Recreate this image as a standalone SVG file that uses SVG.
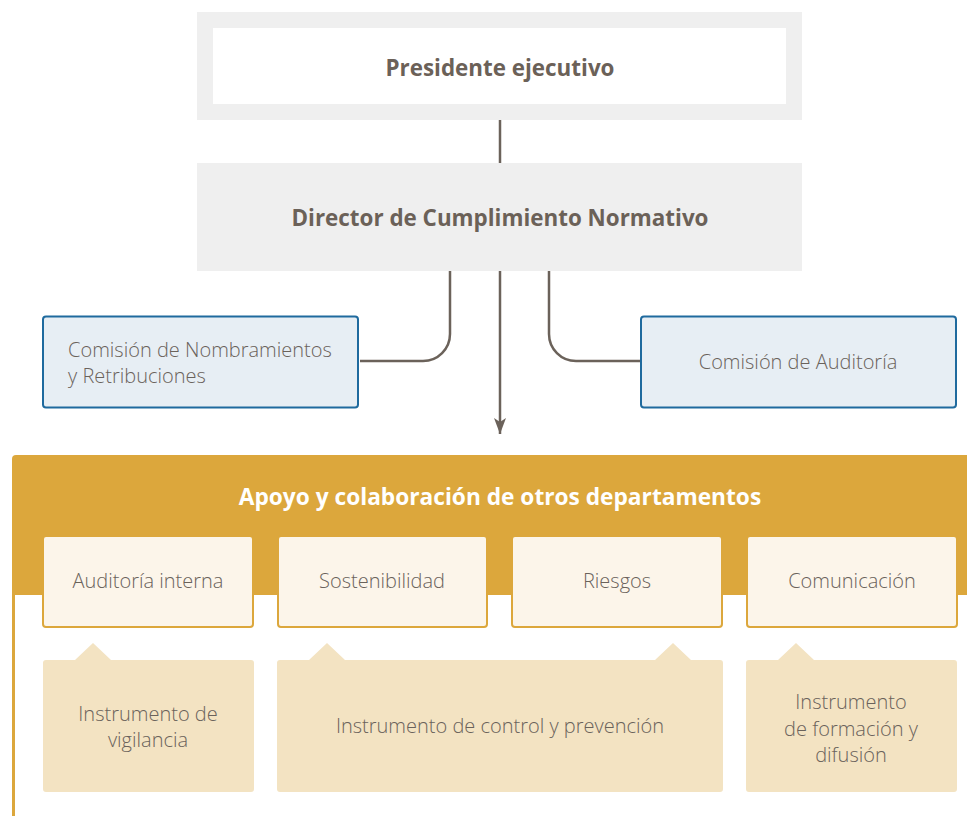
<svg xmlns="http://www.w3.org/2000/svg" width="967" height="816" viewBox="0 0 967 816">
<defs>
<style>
.t{font-family:"Open Sans","Noto Sans","Liberation Sans",sans-serif;font-weight:300;fill:#6a625b;font-size:20px;text-anchor:middle}
.b{font-family:"Open Sans","Noto Sans","Liberation Sans",sans-serif;font-weight:bold;fill:#6b6158;font-size:22.4px;text-anchor:middle}
.com{fill:#e7eef4;stroke:#1f6a9e;stroke-width:2}
.dept{fill:#fcf5ea;stroke:#dca73c;stroke-width:2}
.inst{fill:#f3e3c2}
.conn{fill:none;stroke:#6b625a;stroke-width:2.5}
</style>
<marker id="arr" markerWidth="16" markerHeight="12" refX="16" refY="6" orient="auto" markerUnits="userSpaceOnUse" viewBox="0 0 16 12">
<path d="M0,0 L16,6 L0,12 L4,6 Z" fill="#6b625a"/>
</marker>
</defs>
<rect width="967" height="816" fill="#ffffff"/>

<g id="presidente">
<rect x="197" y="12" width="605" height="108" fill="#efefef"/>
<rect x="213" y="28" width="573" height="76" fill="#ffffff"/>
<text class="b" x="500" y="76">Presidente ejecutivo</text>
</g>

<g id="director">
<rect x="197" y="163" width="605" height="108" fill="#efefef"/>
<text class="b" x="500" y="226">Director de Cumplimiento Normativo</text>
</g>

<g id="connectors">
<line class="conn" x1="500" y1="120" x2="500" y2="163"/>
<path class="conn" d="M450,271 V334 A27,27 0 0 1 423,361 H360"/>
<path class="conn" d="M549,271 V334 A27,27 0 0 0 576,361 H641"/>
<line class="conn" x1="500" y1="271" x2="500" y2="434" marker-end="url(#arr)"/>
</g>

<g id="comision-nombramientos">
<rect class="com" x="43" y="316.5" width="315" height="91" rx="3"/>
<text class="t" x="68" y="357" style="text-anchor:start">Comisión de Nombramientos</text>
<text class="t" x="68" y="383" style="text-anchor:start">y Retribuciones</text>
</g>

<g id="comision-auditoria">
<rect class="com" x="641" y="316.5" width="315" height="91" rx="3"/>
<text class="t" x="798" y="369">Comisión de Auditoría</text>
</g>

<g id="apoyo">
<path d="M12,595 V459 Q12,455 16,455 H967 V595 Z" fill="#dca73c"/>
<line x1="13.5" y1="595" x2="13.5" y2="816" stroke="#dca73c" stroke-width="3"/>
<text class="b" x="500" y="505" style="fill:#ffffff;font-size:22.7px">Apoyo y colaboración de otros departamentos</text>
</g>

<g id="auditoria-interna">
<rect class="dept" x="43" y="536" width="210" height="91" rx="3"/>
<text class="t" x="148" y="588">Auditoría interna</text>
</g>
<g id="sostenibilidad">
<rect class="dept" x="278" y="536" width="209" height="91" rx="3"/>
<text class="t" x="382" y="588">Sostenibilidad</text>
</g>
<g id="riesgos">
<rect class="dept" x="512" y="536" width="210" height="91" rx="3"/>
<text class="t" x="617" y="588">Riesgos</text>
</g>
<g id="comunicacion">
<rect class="dept" x="747" y="536" width="210" height="91" rx="3"/>
<text class="t" x="852" y="588">Comunicación</text>
</g>

<g id="instrumento-vigilancia">
<path class="inst" d="M46,660 H75 L93,643 L111,660 H251 Q254,660 254,663 V789 Q254,792 251,792 H46 Q43,792 43,789 V663 Q43,660 46,660 Z"/>
<text class="t" x="148" y="721">Instrumento de</text>
<text class="t" x="148" y="747">vigilancia</text>
</g>

<g id="instrumento-control">
<path class="inst" d="M280,660 H309 L327,643 L345,660 H655 L673,643 L691,660 H720 Q723,660 723,663 V789 Q723,792 720,792 H280 Q277,792 277,789 V663 Q277,660 280,660 Z"/>
<text class="t" x="500" y="733">Instrumento de control y prevención</text>
</g>

<g id="instrumento-formacion">
<path class="inst" d="M749,660 H778 L796,643 L814,660 H954 Q957,660 957,663 V789 Q957,792 954,792 H749 Q746,792 746,789 V663 Q746,660 749,660 Z"/>
<text class="t" x="851" y="709">Instrumento</text>
<text class="t" x="851" y="736">de formación y</text>
<text class="t" x="851" y="762">difusión</text>
</g>
</svg>
